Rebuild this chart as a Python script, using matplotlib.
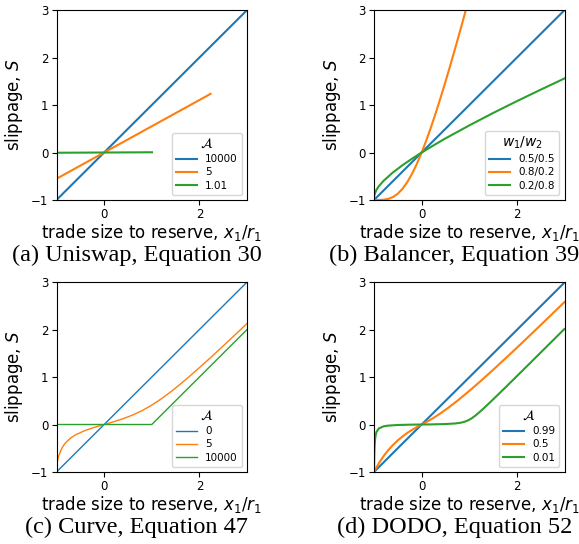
import matplotlib
matplotlib.use('Agg')
import matplotlib.pyplot as plt

# (a) Uniswap
uni_labels = ['10000', '5', '1.01']
uni_x_10000 = [-1, 3]
uni_s_10000 = [-1, 3]
uni_x_5 = [-1, 0, 2.236]
uni_s_5 = [-0.553, 0, 1.236]
uni_x_101 = [-1, 0, 1.005]
uni_s_101 = [-0.005, 0, 0.005]

# (b) Balancer
bal_labels = ['0.5/0.5', '0.8/0.2', '0.2/0.8']
bal_x_55 = [-1, 3]
bal_s_55 = [-1, 3]
bal_x_82 = [-1, -0.9, -0.8, -0.7, -0.6, -0.5, -0.4, -0.3, -0.2, -0.1, 0,
            0.1, 0.2, 0.3, 0.4, 0.5, 0.6, 0.7, 0.8, 0.9, 1.0]
bal_s_82 = [-1, -0.9996, -0.995, -0.977, -0.937, -0.867, -0.762, -0.621, -0.445, -0.237, 0,
            0.262, 0.545, 0.846, 1.163, 1.492, 1.832, 2.181, 2.537, 2.899, 3.267]
bal_x_28 = [-1, -0.999, -0.99, -0.95, -0.9, -0.8, -0.6, -0.4, -0.2, 0, 0.25, 0.5, 1, 1.5, 2, 2.5, 3]
bal_s_28 = [-1, -0.946, -0.886, -0.787, -0.711, -0.596, -0.417, -0.266, -0.129, 0, 0.151, 0.297,
            0.571, 0.832, 1.082, 1.324, 1.561]

# (c) Curve
cur_labels = ['0', '5', '10000']
cur_x_0 = [-1, 3]
cur_s_0 = [-1, 3]
cur_x_5 = [-1, -0.9999, -0.999, -0.995, -0.99, -0.98, -0.97, -0.95, -0.9, -0.85, -0.8, -0.7, -0.6,
           -0.4, -0.2, 0, 0.2, 0.4, 0.6, 0.8, 1.0, 1.2, 1.4, 1.6, 1.8, 2.0, 2.25, 2.5, 2.75, 3.0]
cur_s_5 = [-1, -0.984, -0.950, -0.887, -0.840, -0.774, -0.724, -0.649, -0.523, -0.438, -0.374,
           -0.282, -0.217, -0.126, -0.058, 0, 0.058, 0.123, 0.2, 0.294, 0.408, 0.541, 0.690, 0.851,
           1.021, 1.197, 1.423, 1.655, 1.890, 2.128]
cur_x_10000 = [-1, -1, 1, 3]
cur_s_10000 = [-1, 0, 0, 2]

# (d) DODO
dodo_labels = ['0.99', '0.5', '0.01']
dodo_x_099 = [-1, -0.5, 0, 0.995, 3.0]
dodo_s_099 = [-1, -0.4975, 0, 0.99, 2.992]
dodo_x_05 = [-1, -0.95, -0.9, -0.8, -0.7, -0.6, -0.5, -0.4, -0.3, -0.2, -0.1, 0,
             0.106, 0.225, 0.364, 0.533, 0.75, 1.05, 1.254, 1.517, 1.875, 2.11, 2.4, 2.688, 3.0]
dodo_s_05 = [-1, -0.905, -0.818, -0.667, -0.538, -0.429, -0.333, -0.25, -0.176, -0.111, -0.053, 0,
             0.056, 0.125, 0.214, 0.333, 0.5, 0.75, 0.929, 1.167, 1.5, 1.722, 2.0, 2.278, 2.581]
dodo_x_001 = [-1, -0.998, -0.995, -0.99, -0.98, -0.97, -0.95, -0.9, -0.8, -0.7, -0.5, -0.2, 0,
              0.2005, 0.505, 0.716, 0.832, 0.898, 0.981, 1.054, 1.131, 1.190, 1.284, 1.355, 1.460,
              1.632, 1.768, 1.970, 2.306, 2.641, 2.995]
dodo_s_001 = [-1, -0.833, -0.666, -0.498, -0.329, -0.244, -0.160, -0.083, -0.038, -0.023, -0.010,
              -0.0025, 0, 0.0025, 0.01, 0.023, 0.04, 0.057, 0.09, 0.133, 0.19, 0.24, 0.323, 0.39,
              0.49, 0.657, 0.79, 0.99, 1.323, 1.657, 2.010]

captions = ['(a) Uniswap, Equation 30', '(b) Balancer, Equation 39',
            '(c) Curve, Equation 47', '(d) DODO, Equation 52']

colors = ['#1f77b4', '#ff7f0e', '#2ca02c']


def draw_panel(ax, xs, ss, labels, title, lw):
    for x, s, lab, c in zip(xs, ss, labels, colors):
        ax.plot(x, s, color=c, lw=lw, label=lab)
    ax.set_xlim(-1, 3)
    ax.set_ylim(-1, 3)
    ax.set_xticks([0, 2])
    ax.set_yticks([-1, 0, 1, 2, 3])
    ax.tick_params(labelsize=8.5, pad=2.5)
    ax.set_xlabel('trade size to reserve, $x_1/r_1$', fontsize=12, labelpad=0.5)
    ax.set_ylabel('slippage, $S$', fontsize=12, labelpad=4)
    ax.legend(title=title, loc='lower right', fontsize=7.5, title_fontsize=10,
              handlelength=2, labelspacing=0.3)


fig = plt.figure(figsize=(5.79, 5.44), dpi=100)

ax_a = fig.add_axes([0.0976, 0.6324, 0.329, 0.349])
ax_b = fig.add_axes([0.646, 0.6324, 0.329, 0.349])
ax_c = fig.add_axes([0.0976, 0.1324, 0.329, 0.349])
ax_d = fig.add_axes([0.646, 0.1324, 0.329, 0.349])

draw_panel(ax_a, [uni_x_10000, uni_x_5, uni_x_101], [uni_s_10000, uni_s_5, uni_s_101],
           uni_labels, '$\\mathcal{A}$', 1.5)
draw_panel(ax_b, [bal_x_55, bal_x_82, bal_x_28], [bal_s_55, bal_s_82, bal_s_28],
           bal_labels, '$w_1/w_2$', 1.5)
draw_panel(ax_c, [cur_x_0, cur_x_5, cur_x_10000], [cur_s_0, cur_s_5, cur_s_10000],
           cur_labels, '$\\mathcal{A}$', 1.0)
draw_panel(ax_d, [dodo_x_099, dodo_x_05, dodo_x_001], [dodo_s_099, dodo_s_05, dodo_s_001],
           dodo_labels, '$\\mathcal{A}$', 1.5)

cap_pos = [(0.2366, 0.531), (0.785, 0.531), (0.2366, 0.031), (0.785, 0.031)]
for (cx, cy), cap in zip(cap_pos, captions):
    fig.text(cx, cy, cap, ha='center', va='center', fontsize=17.5, family='Liberation Serif')

fig.savefig('out.png', dpi=100)
